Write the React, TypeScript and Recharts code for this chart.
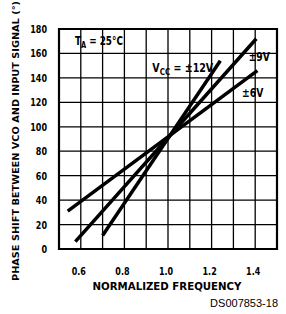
import { LineChart, Line, XAxis, YAxis, CartesianGrid, ReferenceArea, ReferenceDot } from "recharts";

const FONT = "'Liberation Sans Narrow', 'DejaVu Sans Condensed', 'Arial Narrow', sans-serif";

// normalized frequency ticks (grid every 0.1, labels every 0.2)
const xTicks = [0.5, 0.6, 0.7, 0.8, 0.9, 1.0, 1.1, 1.2, 1.3, 1.4, 1.5];
const xLabelled = [0.6, 0.8, 1.0, 1.2, 1.4];
const yTicks = [0, 20, 40, 60, 80, 100, 120, 140, 160, 180];

// phase shift (degrees) vs normalized frequency, one line per supply
const vcc6 = [
  { f: 0.54, deg: 31 },
  { f: 1.41, deg: 146 },
];
const vcc9 = [
  { f: 0.575, deg: 6 },
  { f: 1.405, deg: 172 },
];
const vcc12 = [
  { f: 0.7, deg: 11 },
  { f: 1.24, deg: 154 },
];

// squeeze text horizontally to mimic the narrow bold face of the datasheet
const Narrow = ({ x, y, anchor = "start", size = 11, sx = 0.78, len, children }: any) => (
  <text
    transform={`translate(${x},${y}) scale(${sx},1)`}
    textAnchor={anchor}
    fontFamily={FONT}
    fontWeight="bold"
    fontSize={size}
    fill="#000"
    textLength={len}
    lengthAdjust={len ? "spacingAndGlyphs" : undefined}
  >
    {children}
  </text>
);

const XTick = ({ x, y, payload }: any) => {
  const v = payload.value as number;
  if (!xLabelled.some((t) => Math.abs(t - v) < 1e-6)) return null;
  return (
    <Narrow x={x - 2} y={y + 10} anchor="middle" size={10.5} sx={0.85}>
      {v.toFixed(1)}
    </Narrow>
  );
};

const YTick = ({ x, y, payload }: any) => (
  <Narrow x={x} y={y + 4} anchor="end" size={10.5} sx={0.85}>
    {payload.value}
  </Narrow>
);

const YTitle = () => (
  <g transform="translate(18.5,141) rotate(-90)">
    <Narrow x={0} y={0} anchor="middle" size={9.5} sx={1} len={280}>
      PHASE SHIFT BETWEEN VCO AND INPUT SIGNAL (°)
    </Narrow>
  </g>
);

const XTitle = () => (
  <g>
    <Narrow x={167} y={290} anchor="middle" size={11} sx={1} len={149}>
      NORMALIZED FREQUENCY
    </Narrow>
    <text x={278} y={307} textAnchor="end" fontFamily="'Liberation Sans', Arial, sans-serif" fontSize={11} fill="#000">
      DS007853-18
    </text>
  </g>
);

const noteAt = (body: any, sx = 0.8) => (p: any) => (
  <Narrow x={p.viewBox.x} y={p.viewBox.y} size={12} sx={sx}>
    {body}
  </Narrow>
);

export default function App() {
  return (
    <div style={{ position: "absolute", left: 0, top: 0, width: 286, height: 314, background: "#fff" }}>
      <LineChart width={286} height={314} margin={{ top: 29, right: 9, bottom: 35, left: 14 }}>
        <CartesianGrid stroke="#000" strokeWidth={1.3} />
        <XAxis
          type="number"
          dataKey="f"
          domain={[0.5, 1.5]}
          ticks={xTicks}
          interval={0}
          tickLine={false}
          axisLine={false}
          tickMargin={10}
          height={30}
          tick={<XTick />}
          label={{ content: () => <XTitle /> }}
          allowDataOverflow
        />
        <YAxis
          type="number"
          dataKey="deg"
          domain={[0, 180]}
          ticks={yTicks}
          interval={0}
          tickLine={false}
          axisLine={false}
          tickMargin={6}
          width={45}
          tick={<YTick />}
          label={{ content: () => <YTitle /> }}
        />
        <ReferenceArea x1={0.5} x2={1.5} y1={0} y2={180} fill="none" stroke="#000" strokeWidth={2.2} />
        <Line data={vcc6} dataKey="deg" type="linear" stroke="#000" strokeWidth={3.5} dot={false} isAnimationActive={false} />
        <Line data={vcc9} dataKey="deg" type="linear" stroke="#000" strokeWidth={3.5} dot={false} isAnimationActive={false} />
        <Line data={vcc12} dataKey="deg" type="linear" stroke="#000" strokeWidth={3.5} dot={false} isAnimationActive={false} />
        <ReferenceDot
          x={0.573}
          y={167}
          r={0}
          fill="none"
          stroke="none"
          label={{
            content: noteAt(
              <>
                T<tspan fontSize={9} dy={3}>A</tspan>
                <tspan dy={-3}> = 25°C</tspan>
              </>,
              0.82
            ),
          }}
        />
        <ReferenceDot
          x={0.928}
          y={145}
          r={0}
          fill="none"
          stroke="none"
          label={{
            content: noteAt(
              <>
                V<tspan fontSize={9} dy={3}>CC</tspan>
                <tspan dy={-3}> = ±12V</tspan>
              </>,
              0.88
            ),
          }}
        />
        <ReferenceDot x={1.37} y={154} r={0} fill="none" stroke="none" label={{ content: noteAt("±9V", 0.85) }} />
        <ReferenceDot x={1.34} y={124} r={0} fill="none" stroke="none" label={{ content: noteAt("±6V", 0.85) }} />
      </LineChart>
    </div>
  );
}
